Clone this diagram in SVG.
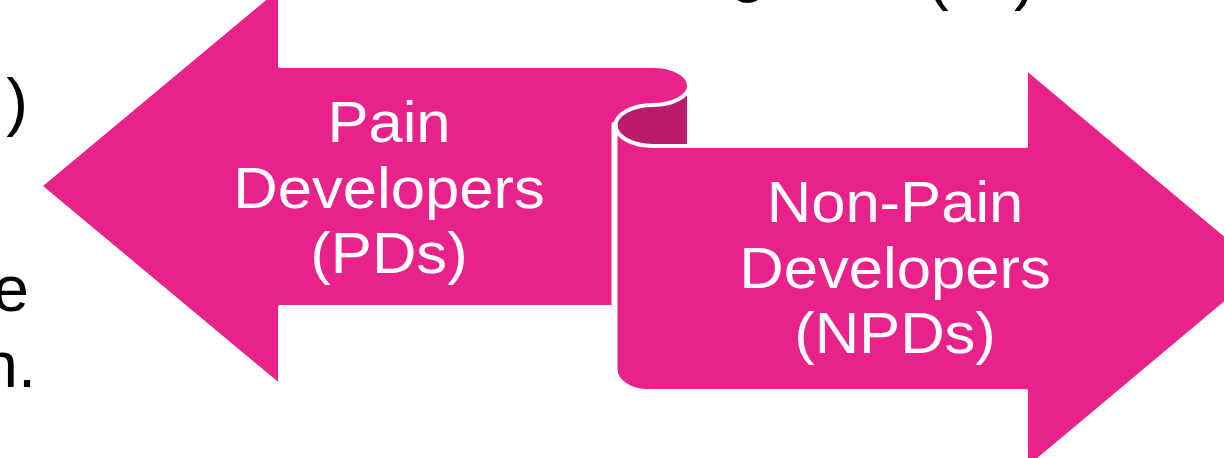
<svg xmlns="http://www.w3.org/2000/svg" width="1224" height="458" viewBox="0 0 1224 458">
  <style>
    .ribbon { fill: #E8228A; stroke: #FFFFFF; stroke-width: 4; stroke-linejoin: round; }
    .curl { fill: #BA1B6D; stroke: #FFFFFF; stroke-width: 4; stroke-linejoin: round; }
    .label { font-family: "Liberation Sans", Arial, Helvetica, sans-serif; font-size: 57px; fill: #FFFFFF; text-anchor: middle; }
    .body { font-family: "Liberation Sans", Arial, Helvetica, sans-serif; font-size: 65px; fill: #000000; }
  </style>
  <rect width="1224" height="458" fill="#FFFFFF"/>

  <!-- body text running off the edges of the slide -->
  <g id="side-text" class="body">
    <text x="28" y="124" text-anchor="end">)</text>
    <text x="29" y="311" text-anchor="end">e</text>
    <text x="36" y="387" text-anchor="end">n.</text>
  </g>
  <g id="top-text" class="body">
    <text x="730" y="-10">g</text>
    <text x="927" y="-2">(</text>
    <text x="1014" y="-2">)</text>
  </g>

  <!-- left-pointing arrow with the rolled top -->
  <g id="pain-developers">
    <path class="ribbon" d="M40,186 L280,-14 L280,66 L653,66 A36,19.5 0 0 1 689,85.5 L689,124 L613.5,124 L613.5,307 L280,307 L280,386 Z" stroke="none"/>
    <g transform="translate(389,0) scale(1.08,1)">
      <text class="label" x="0" y="142">Pain</text>
      <text class="label" x="0" y="208">Developers</text>
      <text class="label" x="0" y="273">(PDs)</text>
    </g>
  </g>

  <!-- underside of the ribbon where it turns over -->
  <g id="curl">
    <path class="curl" d="M689,85.5 A36,19.5 0 0 1 653,105 A37.5,20.5 0 0 0 615.5,125.5 A37.5,20.5 0 0 0 653,146 L689,146 Z"/>
  </g>

  <!-- right-pointing arrow -->
  <g id="non-pain-developers">
    <path class="ribbon" d="M615.5,125.5 A37.5,20.5 0 0 0 653,146 L1026,146 L1026,68 L1266,269 L1026,470 L1026,391 L648,391 A32.5,22 0 0 1 615.5,369 Z"/>
    <g transform="translate(895,0) scale(1.08,1)">
      <text class="label" x="0" y="222">Non-Pain</text>
      <text class="label" x="0" y="288">Developers</text>
      <text class="label" x="0" y="353">(NPDs)</text>
    </g>
  </g>
</svg>
